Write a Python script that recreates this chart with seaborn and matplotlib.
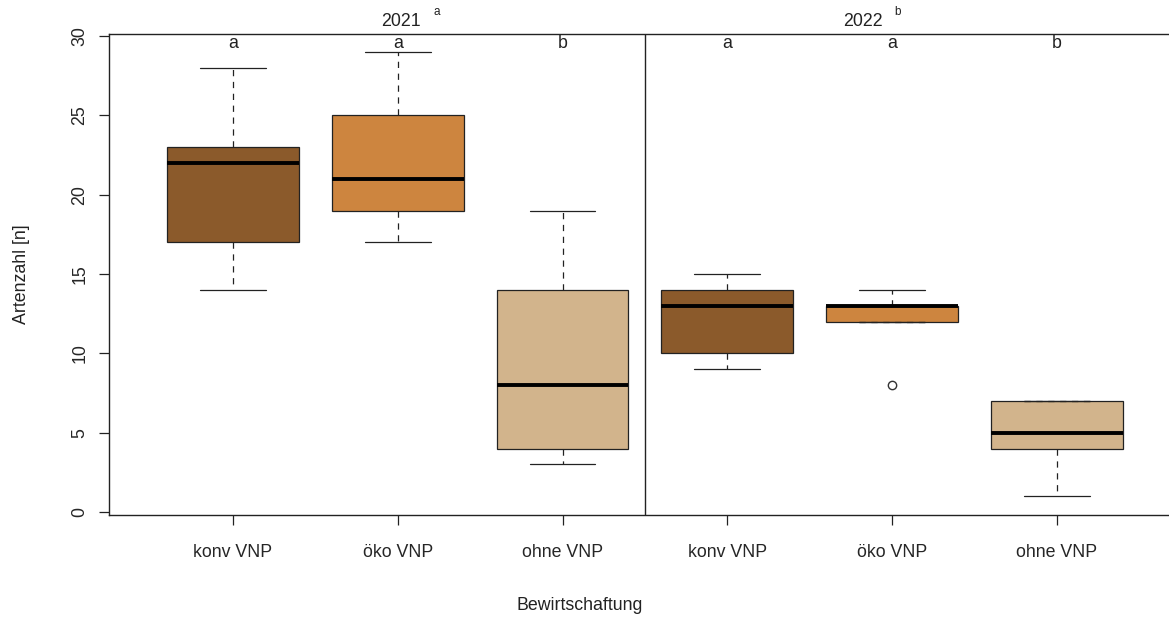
import numpy as np
import pandas as pd
import matplotlib
matplotlib.use("Agg")
import matplotlib.pyplot as plt
import seaborn as sns

# Species counts per management type and year
years = ["2021", "2022"]
year_letters = ["a", "b"]
management = ["konv VNP", "öko VNP", "ohne VNP"]
group_letters = ["a", "a", "b"]

konv_2021 = [14, 17, 22, 23, 28]
oeko_2021 = [17, 19, 21, 25, 29]
ohne_2021 = [3, 4, 8, 14, 19]
konv_2022 = [9, 10, 13, 14, 15]
oeko_2022 = [8, 12, 12, 13, 13, 13, 14]
ohne_2022 = [1, 4, 5, 7, 7]

colors = ["#8B5A2B", "#CD853F", "#D2B48C"]

series = {
    ("2021", "konv VNP"): konv_2021,
    ("2021", "öko VNP"): oeko_2021,
    ("2021", "ohne VNP"): ohne_2021,
    ("2022", "konv VNP"): konv_2022,
    ("2022", "öko VNP"): oeko_2022,
    ("2022", "ohne VNP"): ohne_2022,
}
rows = []
for (yr, mg), vals in series.items():
    for v in vals:
        rows.append({"Gruppe": f"{yr} {mg}", "Bewirtschaftung": mg, "Artenzahl": v})
df = pd.DataFrame(rows)
order = [f"{yr} {mg}" for yr in years for mg in management]
palette = {f"{yr} {mg}": colors[i] for yr in years for i, mg in enumerate(management)}

sns.set_style("ticks")
plt.rcParams["font.family"] = ["Liberation Sans", "DejaVu Sans"]

fig = plt.figure(figsize=(11.69, 6.17), dpi=100)
ax = fig.add_axes([109 / 1169, 1 - 515 / 617, 1 - 109 / 1169, (515 - 34) / 617])

sns.boxplot(
    data=df, x="Gruppe", y="Artenzahl", hue="Gruppe", order=order,
    hue_order=order, palette=palette, legend=False, ax=ax,
    width=0.8, whis=1.5, linecolor="black", linewidth=0.9, saturation=1,
    boxprops=dict(edgecolor="#222222"),
    whiskerprops=dict(linestyle=(0, (5, 4.5)), color="#222222"),
    capprops=dict(color="#222222"),
    medianprops=dict(color="black", linewidth=2.8),
    flierprops=dict(marker="o", markerfacecolor="white",
                    markeredgecolor="#333333", markersize=6, markeredgewidth=1),
)
# caps at half the box width
for line in ax.lines:
    xd = np.asarray(line.get_xdata(), dtype=float)
    yd = np.asarray(line.get_ydata(), dtype=float)
    if len(xd) == 2 and yd[0] == yd[1] and line.get_linewidth() < 2:
        c = xd.mean()
        w = abs(xd[1] - xd[0])
        if w < 0.79:
            line.set_xdata([c - 0.2, c + 0.2])

ax.set_xlim(-0.752, 5.68)
ax.set_ylim(-0.19, 30.13)
ax.set_xticks(range(6))
ax.set_xticklabels(management * 2, fontsize=12.8)
ax.set_yticks([0, 5, 10, 15, 20, 25, 30])
ax.set_yticklabels(["0", "5", "10", "15", "20", "25", "30"], fontsize=12.8,
                   rotation=90, va="center")
ax.tick_params(axis="both", length=7, width=0.9, color="#222222", pad=8)
ax.tick_params(axis="x", pad=14)
ax.set_xlabel("")
ax.set_ylabel("")
for s in ["left", "bottom", "top"]:
    ax.spines[s].set_linewidth(1.0)
    ax.spines[s].set_color("#222222")
ax.spines["right"].set_visible(False)
ax.axvline(2.5, color="#222222", linewidth=1.0)

for i in range(6):
    ax.text(i, 29.55, group_letters[i % 3], ha="center", va="center",
            fontsize=12.8, color="#222222")

# year headings with superscript group letters
year_x = [1.02, 3.82]
for k, (yr, lt) in enumerate(zip(years, year_letters)):
    xc = year_x[k]
    ax.text(xc, 1.025, yr, transform=ax.get_xaxis_transform(), ha="center",
            va="center", fontsize=12.8, color="#222222")
    ax.text(xc + 0.215, 1.046, lt, transform=ax.get_xaxis_transform(),
            ha="center", va="center", fontsize=8.5, color="#222222")

fig.text(580 / 1169, 1 - 605 / 617, "Bewirtschaftung", ha="center",
         va="center", fontsize=12.8, color="#222222")
fig.text(22 / 1169, 1 - 274 / 617, "Artenzahl [n]", ha="center", va="center",
         rotation=90, fontsize=12.8, color="#222222")

fig.savefig("out.png", dpi=100, facecolor="white")
